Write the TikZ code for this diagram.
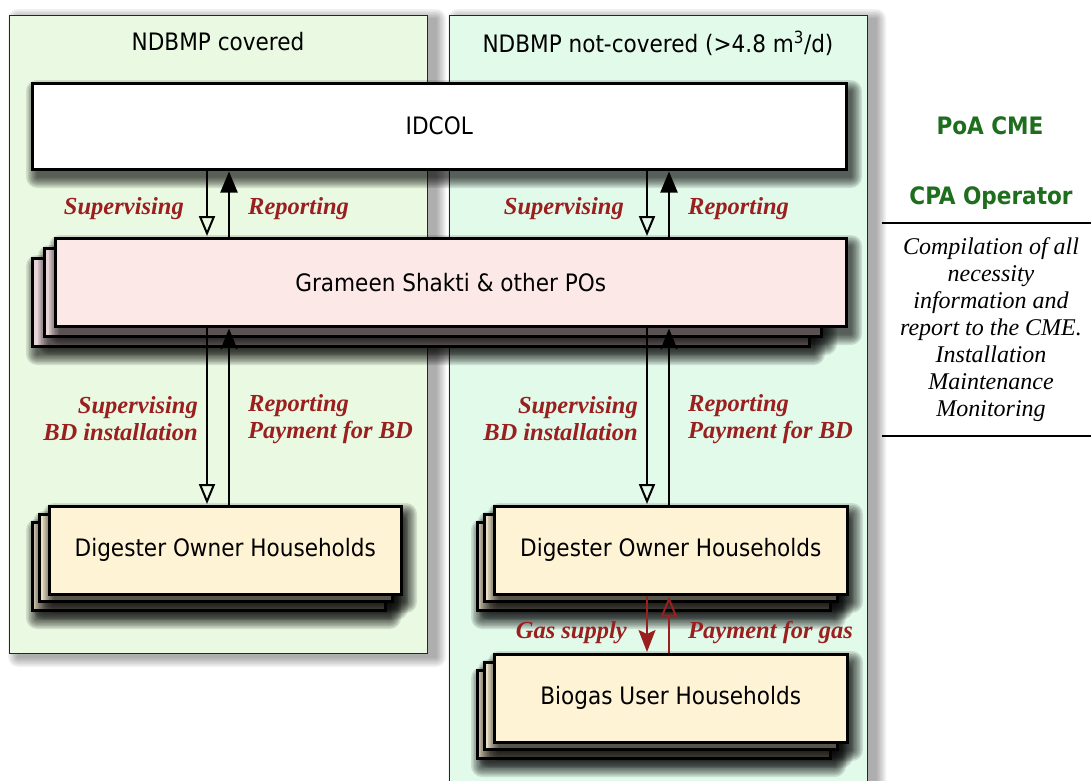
\documentclass[tikz,border=0pt]{standalone}
\usepackage{fontspec}
\setmainfont{Liberation Serif}
\newfontfamily\tah{DejaVu Sans Condensed}
\usetikzlibrary{arrows.meta}
\definecolor{panelL}{HTML}{EAFAE2}
\definecolor{panelR}{HTML}{E2FAEA}
\definecolor{gsfill}{HTML}{FDE8E8}
\definecolor{gsback}{HTML}{E6D4D6}
\definecolor{dohfill}{HTML}{FFF3D6}
\definecolor{dohback}{HTML}{E8DEC4}
\definecolor{lblred}{HTML}{9A2020}
\definecolor{cmegreen}{HTML}{1E6E1E}
\tikzset{
  panel/.style={draw=black!85, line width=1pt, anchor=north west, inner sep=0pt},
  box/.style={draw=black, line width=2.5pt, anchor=north west, inner sep=0pt,
    font=\tah\fontsize{24}{28}\selectfont},
  gsbox/.style={box, fill=gsfill},
  gslayer/.style={box, fill=gsback},
  dohbox/.style={box, fill=dohfill},
  dohlayer/.style={box, fill=dohback},
  title/.style={font=\tah\fontsize{24}{28}\selectfont, inner sep=0pt},
  lbl/.style={font=\bfseries\itshape\fontsize{24.5}{27}\selectfont, text=lblred, inner sep=0pt},
  conn/.style={line width=2pt, draw=black, shorten >=1pt},
  redconn/.style={line width=2pt, draw=lblred, shorten >=1pt},
  opentip/.style={-{Triangle[open,length=20pt,width=16pt,line width=2pt]}},
  filltip/.style={-{Triangle[length=21pt,width=17pt]}},
  stealthtip/.style={-{Stealth[length=21pt,width=17pt,inset=5pt]}},
  softsh/.style={fill=black, opacity=0.11},
  panelsh/.style={fill=black, opacity=0.05},
}
% #1 style, #2 name, #3 x, #4 y, #5 w, #6 h, #7 text
\newcommand\shbox[7]{%
  \foreach \s in {0.5,2,...,11} {
    \fill[softsh, rounded corners=\s pt] (#3+6-\s, #4+9-\s) rectangle (#3+#5+6+\s, #4+#6+9+\s);
  }
  \node[#1, minimum width=#5 pt, minimum height=#6 pt] (#2) at (#3,#4) {#7};
}
\newcommand\shpanel[6]{%
  \foreach \s in {1,2.5,...,10} {
    \fill[panelsh, rounded corners=\s pt] (#3+9-\s, #4+4-\s) rectangle (#3+#5+9+\s, #4+#6+4+\s);
  }
  \node[panel, #1, minimum width=#5 pt, minimum height=#6 pt] (#2) at (#3,#4) {};
}
\begin{document}
\begin{tikzpicture}[x=1pt,y=-1pt]
\fill[white] (0,0) rectangle (1091,780);
\useasboundingbox (0,0) rectangle (1091,780);
% panels
\shpanel{fill=panelL}{pL}{9}{15}{418}{638}
\shpanel{fill=panelR}{pR}{449}{15}{418}{790}
\node[title] (tL) at (218,42) {NDBMP covered};
\node[title] (tR) at (658,43) {NDBMP not-covered (>4.8 m\textsuperscript{3}/d)};
% IDCOL
\shbox{box, fill=white}{idcol}{31}{82}{814}{86}{IDCOL}
% GS stack
\shbox{gslayer}{gs3}{31}{257}{777}{88}{}
\shbox{gslayer}{gs2}{43}{247}{777}{88}{}
\shbox{gsbox}{gs}{54}{237}{791}{88}{Grameen Shakti \& other POs}
% DOH left
\shbox{dohlayer}{dohL3}{31}{521}{353}{88}{}
\shbox{dohlayer}{dohL2}{38}{513}{353}{87}{}
\shbox{dohbox}{dohL}{48}{505}{352}{88}{Digester Owner Households}
% DOH right
\shbox{dohlayer}{dohR3}{476}{521}{353}{88}{}
\shbox{dohlayer}{dohR2}{483}{513}{353}{87}{}
\shbox{dohbox}{dohR}{493}{505}{353}{88}{Digester Owner Households}
% BUH
\shbox{dohlayer}{buh3}{476}{669}{353}{88}{}
\shbox{dohlayer}{buh2}{483}{661}{353}{87}{}
\shbox{dohbox}{buh}{493}{653}{353}{88}{Biogas User Households}
% arrow x positions
\coordinate (a1) at (207,0);
\coordinate (a2) at (229,0);
\coordinate (a3) at (647,0);
\coordinate (a4) at (669,0);
% IDCOL <-> GS
\draw[conn, opentip] (idcol.south -| a1) -- (gs.north -| a1);
\draw[conn, filltip] (gs.north -| a2) -- (idcol.south -| a2);
\draw[conn, opentip] (idcol.south -| a3) -- (gs.north -| a3);
\draw[conn, filltip] (gs.north -| a4) -- (idcol.south -| a4);
% GS <-> DOH
\draw[conn, opentip] (gs.south -| a1) -- (dohL.north -| a1);
\draw[conn, stealthtip] (dohL.north -| a2) -- (gs.south -| a2);
\draw[conn, opentip] (gs.south -| a3) -- (dohR.north -| a3);
\draw[conn, stealthtip] (dohR.north -| a4) -- (gs.south -| a4);
% DOH <-> BUH
\draw[redconn, -{Stealth[length=22pt,width=17pt,inset=4pt]}, lblred] (dohR.south -| a3) -- (buh.north -| a3);
\draw[redconn, -{Triangle[open,length=20pt,width=16pt,line width=2pt]}, lblred] (buh.north -| a4) -- (dohR.south -| a4);
% labels
\node[lbl, anchor=east] (sup1) at (184,209) {Supervising};
\node[lbl, anchor=west] (rep1) at (248,209) {Reporting};
\node[lbl, anchor=east] (sup2) at (624,209) {Supervising};
\node[lbl, anchor=west] (rep2) at (688,209) {Reporting};
\node[lbl, anchor=east, align=right] (sup3) at (198,419) {Supervising\\BD installation};
\node[lbl, anchor=west, align=left] (rep3) at (248,419) {Reporting\\Payment for BD};
\node[lbl, anchor=east, align=right] (sup4) at (638,419) {Supervising\\BD installation};
\node[lbl, anchor=west, align=left] (rep4) at (688,419) {Reporting\\Payment for BD};
\node[lbl, anchor=east] (gas) at (627,633) {Gas supply};
\node[lbl, anchor=west] (pay) at (688,633) {Payment for gas};
% right column
\node[font=\tah\bfseries\fontsize{24}{28}\selectfont, text=cmegreen, inner sep=0pt] (cme) at (990,126) {PoA CME};
\node[font=\tah\bfseries\fontsize{24}{28}\selectfont, text=cmegreen, inner sep=0pt] (cpa) at (991,198) {CPA Operator};
\draw[line width=2pt] (882,223) -- (1091,223);
\node[font=\itshape\fontsize{24}{27}\selectfont, align=center, inner sep=0pt] (desc) at (991,330)
  {Compilation of all\\necessity\\information and\\report to the CME.\\Installation\\Maintenance\\Monitoring};
\draw[line width=2pt] (882,436) -- (1091,436);
\end{tikzpicture}
\end{document}
